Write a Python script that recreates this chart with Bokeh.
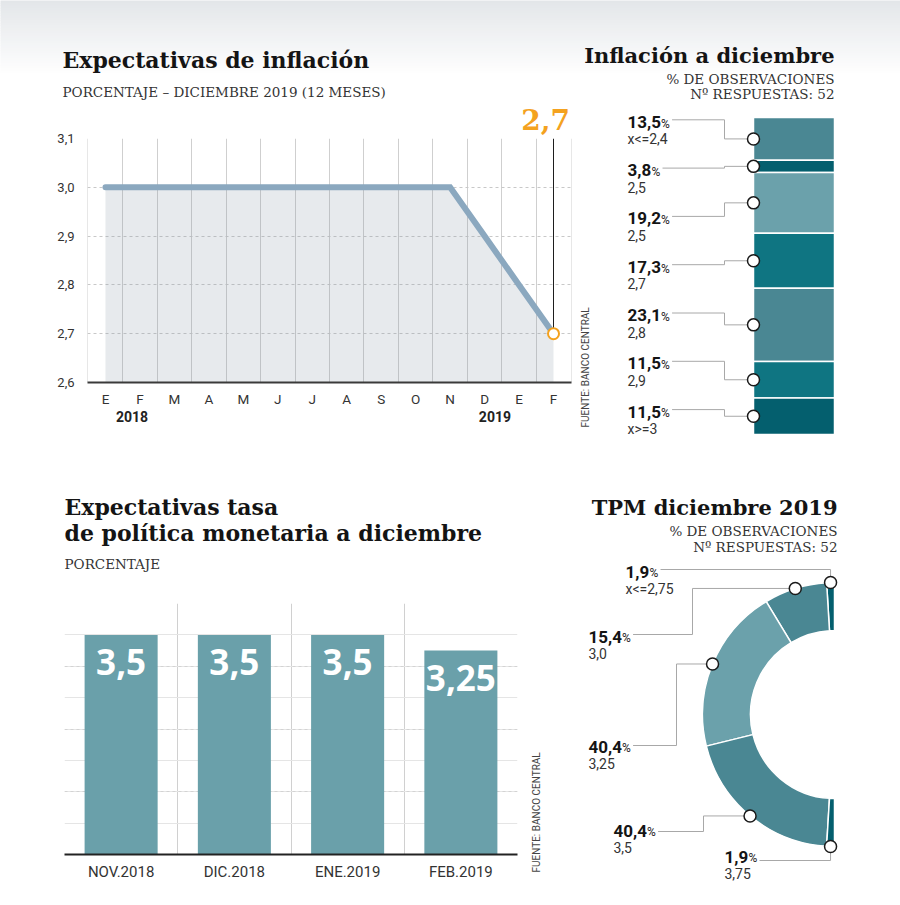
import math
from bokeh.plotting import figure
from bokeh.models import Range1d, FactorRange, FixedTicker, LinearAxis, Grid
from bokeh.layouts import row, column
from bokeh.core.properties import value
from bokeh.embed import file_html
from bokeh.resources import INLINE

# ---------------- data ----------------
months = ["E", "F", "M", "A", "M", "J", "J", "A", "S", "O", "N", "D", "E", "F"]
years = ["2018", "2019"]
inflation_exp = [3.0, 3.0, 3.0, 3.0, 3.0, 3.0, 3.0, 3.0, 3.0, 3.0, 3.0, 2.9, 2.8, 2.7]
y_ticks = [2.6, 2.7, 2.8, 2.9, 3.0, 3.1]
y_tick_labels = ["2,6", "2,7", "2,8", "2,9", "3,0", "3,1"]

infl_share = [13.5, 3.8, 19.2, 17.3, 23.1, 11.5, 11.5]
infl_bins = ["x<=2,4", "2,5", "2,5", "2,7", "2,8", "2,9", "x>=3"]

tpm_months = ["NOV.2018", "DIC.2018", "ENE.2019", "FEB.2019"]
tpm_exp = [3.5, 3.5, 3.5, 3.25]

tpm_share = [1.9, 15.4, 40.4, 40.4, 1.9]
tpm_bins = ["x<=2,75", "3,0", "3,25", "3,5", "3,75"]

# ---------------- styles ----------------
SERIF = "DejaVu Serif"
SANS = "Roboto"
BLACK = "#141414"
GREY_TXT = "#333333"
ORANGE = "#f4a21f"
T_MID, T_DARK, T_LIGHT, T_TEAL = "#4a8793", "#045f6e", "#6ba1ab", "#0f7582"
infl_colors = [T_MID, T_DARK, T_LIGHT, T_TEAL, T_MID, T_TEAL, T_DARK]
tpm_colors = [T_DARK, T_MID, T_LIGHT, T_MID, T_DARK]
BAR_COLOR = "#6aa0aa"
CONN = "#a8a8a8"
year_pos = [0.77, 11.3]
GRAD_TOP = (227, 230, 233)
GRAD_END = 75.0
SOURCE = "FUENTE: BANCO CENTRAL"


def fmt(v):
    return f"{v:g}".replace(".", ",")


def fmt1(v):
    return f"{v:.1f}".replace(".", ",")


def txt(p, x, y, s, size, font=SANS, style="normal", color=BLACK, align="left", angle=0.0):
    p.text(x=[x], y=[y], text=[s], text_font=value(font), text_font_size=f"{size}px",
           text_font_style=style, text_color=color, text_align=align,
           text_baseline="middle", angle=angle)


def bold_w(s, size):
    return sum(0.23 if ch == "," else 0.562 for ch in s) * size


def canvas(w, h, xr, yr):
    p = figure(width=w, height=h, x_range=Range1d(*xr), y_range=Range1d(*yr),
               output_backend="svg", toolbar_location=None,
               x_axis_location=None, y_axis_location=None,
               min_border_left=0, min_border_right=0, min_border_top=0, min_border_bottom=0,
               outline_line_color=None, background_fill_color="white",
               border_fill_color="white", frame_align=False)
    p.grid.visible = False
    return p


# ================= HEADER (top row titles) =================
hdr = canvas(900, 102, (0, 900), (102, 0))
nb = 30
g_tops, g_bots, g_cols = [], [], []
for i in range(nb):
    f = (i + 0.5) / nb
    c = tuple(int(round(GRAD_TOP[k] + (255 - GRAD_TOP[k]) * f)) for k in range(3))
    g_tops.append(GRAD_END * i / nb - (3 if i == 0 else 0))
    g_bots.append(GRAD_END * (i + 1) / nb + 0.4)
    g_cols.append("#%02x%02x%02x" % c)
hdr.quad(left=-5, right=905, top=g_tops, bottom=g_bots, fill_color=g_cols, line_color=None)
txt(hdr, 62, 59.3, "Expectativas de inflación", 22, font=SERIF, style="bold")
txt(hdr, 62, 91, "PORCENTAJE – DICIEMBRE 2019 (12 MESES)", 13.5, font=SERIF,
    color=GREY_TXT)
txt(hdr, 834, 54.6, "Inflación a diciembre", 21, font=SERIF, style="bold", align="right")
txt(hdr, 834, 78, "% DE OBSERVACIONES", 13.5, font=SERIF, color=GREY_TXT, align="right")
txt(hdr, 834, 93, "Nº RESPUESTAS: 52", 13.5, font=SERIF, color=GREY_TXT, align="right")

# ================= TOP LEFT: line chart =================
xs = list(range(len(months)))
pA = figure(width=575, height=358, x_range=Range1d(-0.522, len(months) - 1 + 0.522),
            y_range=Range1d(y_ticks[0], y_ticks[-1]), output_backend="svg",
            toolbar_location=None, min_border_left=87, min_border_right=4,
            min_border_top=36, min_border_bottom=78, outline_line_color=None,
            border_fill_color="white", background_fill_color="white", frame_align=False)
yax = pA.yaxis[0]
yax.ticker = FixedTicker(ticks=y_ticks)
yax.major_label_overrides = dict(zip(y_ticks, y_tick_labels))
yax.axis_line_color = None
yax.major_tick_line_color = None
yax.minor_tick_line_color = None
yax.major_label_standoff = 7
yax.major_label_text_font = SANS
yax.major_label_text_font_size = "13px"
yax.major_label_text_color = GREY_TXT

xax = pA.xaxis[0]
xax.ticker = FixedTicker(ticks=xs)
xax.major_label_overrides = dict(zip(xs, months))
xax.axis_line_color = "#3a3a3a"
xax.axis_line_width = 2
xax.major_tick_line_color = None
xax.minor_tick_line_color = None
xax.major_label_standoff = 2
xax.major_label_text_font = SANS
xax.major_label_text_font_size = "13.5px"
xax.major_label_text_color = GREY_TXT

yr_ax = LinearAxis(ticker=FixedTicker(ticks=year_pos),
                   major_label_overrides=dict(zip(year_pos, years)))
yr_ax.axis_line_color = None
yr_ax.major_tick_line_color = None
yr_ax.minor_tick_line_color = None
yr_ax.major_label_standoff = -5
yr_ax.major_label_text_font = SANS
yr_ax.major_label_text_font_style = "bold"
yr_ax.major_label_text_font_size = "14px"
yr_ax.major_label_text_color = "#222222"
pA.add_layout(yr_ax, "below")

# last value called out above the frame
last_pos = xs[-1] - 0.23
top_ax = LinearAxis(ticker=FixedTicker(ticks=[last_pos]),
                    major_label_overrides={last_pos: fmt(inflation_exp[-1])})
top_ax.axis_line_color = None
top_ax.major_tick_line_color = None
top_ax.minor_tick_line_color = None
top_ax.major_label_standoff = 3
top_ax.major_label_text_font = SERIF
top_ax.major_label_text_font_style = "bold"
top_ax.major_label_text_font_size = "28px"
top_ax.major_label_text_color = ORANGE
pA.add_layout(top_ax, "above")

pA.xgrid.ticker = FixedTicker(ticks=[-0.51] + [i + 0.5 for i in range(len(months) - 1)]
                              + [len(months) - 1 + 0.51])
pA.xgrid.grid_line_color = "#cfcfcf"
pA.xgrid.grid_line_width = 1
pA.ygrid.ticker = FixedTicker(ticks=y_ticks[1:])
pA.ygrid.grid_line_color = "#c8c8c8"
pA.ygrid.grid_line_dash = "3 3"

pA.varea(x=xs, y1=[y_ticks[0]] * len(xs), y2=inflation_exp,
         fill_color="#8796a5", fill_alpha=0.2)
pA.line(xs, inflation_exp, line_width=6, line_color="#8ba8bf", line_cap="round",
        line_join="miter")
pA.segment(x0=[xs[-1]], y0=[inflation_exp[-1]], x1=[xs[-1]], y1=[y_ticks[-1]],
           line_color="#1e1e1e", line_width=1)
pA.scatter([xs[-1]], [inflation_exp[-1]], size=11, fill_color="white",
           line_color=ORANGE, line_width=2)

# ================= TOP RIGHT: stacked bar =================
tot = sum(infl_share)
bar_top_px, bar_bot_px, panel_top, panel_bot = 117.0, 434.0, 102.0, 460.0
ppu = (bar_bot_px - bar_top_px) / tot


def py(px):
    return (px - bar_top_px) / ppu


pB = canvas(325, 358, (575, 900), (py(panel_bot), py(panel_top)))
# source note of the line chart (sits just right of it)
txt(pB, 584.5, py(427), SOURCE, 10, color="#444444", angle=math.pi / 2)

cum = [0.0]
for v in infl_share:
    cum.append(cum[-1] + v)
bx0, bx1 = 753, 834
pB.quad(left=bx0, right=bx1, top=cum[:-1], bottom=cum[1:], fill_color=infl_colors,
        line_color="white", line_width=1.5)
mids = [(cum[i] + cum[i + 1]) / 2 for i in range(len(infl_share))]
lab_x, elbow_x = 627, 724
cxs, cys = [], []
for i, v in enumerate(infl_share):
    base = 127.3 + i * 48.3
    s = fmt1(v)
    w = bold_w(s, 17)
    txt(pB, lab_x, py(base - 6), s, 17, style="bold", color=BLACK)
    txt(pB, lab_x + w + 1, py(base - 4.2), "%", 12, color="#222222")
    txt(pB, lab_x, py(base + 11), infl_bins[i], 14, color=GREY_TXT)
    ly = py(base - 8)
    x_start = lab_x + w + 12
    cxs.append([x_start, elbow_x, elbow_x, bx0])
    cys.append([ly, ly, mids[i], mids[i]])
pB.multi_line(cxs, cys, line_color=CONN, line_width=1)
pB.scatter([bx0] * len(mids), mids, size=12, fill_color="white", line_color="#1a1a1a",
           line_width=1.5)

# ================= BOTTOM LEFT: bar chart =================
pC_head = canvas(580, 120, (0, 580), (580, 460))
txt(pC_head, 64, 506.3, "Expectativas tasa", 22, font=SERIF, style="bold")
txt(pC_head, 64, 532.3, "de política monetaria a diciembre", 22, font=SERIF, style="bold")
txt(pC_head, 64, 563, "PORCENTAJE", 13.5, font=SERIF, color=GREY_TXT)

pC = figure(width=520, height=325, x_range=FactorRange(factors=tpm_months),
            y_range=Range1d(0, 4), output_backend="svg", toolbar_location=None,
            y_axis_location=None, min_border_left=64, min_border_right=3,
            min_border_top=23, min_border_bottom=51, outline_line_color=None,
            border_fill_color="white", background_fill_color="white", frame_align=False)
cax = pC.xaxis[0]
cax.axis_line_color = "#222222"
cax.axis_line_width = 2
cax.major_tick_line_color = None
cax.minor_tick_line_color = None
cax.major_label_standoff = 2
cax.major_label_text_font = SANS
cax.major_label_text_font_size = "15px"
cax.major_label_text_color = GREY_TXT
pC.xgrid.ticker = FixedTicker(ticks=[0, 1, 2, 3, 4])
pC.xgrid.grid_line_color = "#d0d0d0"
pC.add_layout(Grid(dimension=1, ticker=FixedTicker(ticks=[1, 2, 3, 4]),
                   grid_line_color="#d3d3d3", grid_line_dash="3 3"))
pC.vbar(x=tpm_months, top=tpm_exp, width=0.645, fill_color=BAR_COLOR, line_color=None)
pC.text(x=tpm_months, y=tpm_exp, text=[fmt(v) for v in tpm_exp], y_offset=27,
        text_align="center", text_baseline="middle", text_font=value("Open Sans"),
        text_font_style="bold", text_font_size="35px", text_color="white")

srcC = canvas(60, 325, (520, 580), (905, 580))
txt(srcC, 536, 872, SOURCE, 10, color="#444444", angle=math.pi / 2)

# ================= BOTTOM RIGHT: half donut =================
pD = canvas(320, 445, (-254, 66), (-191, 254))
txt(pD, 3, 207.4, "TPM diciembre 2019", 21, font=SERIF, style="bold", align="right")
txt(pD, 3, 184, "% DE OBSERVACIONES", 13.5, font=SERIF, color=GREY_TXT, align="right")
txt(pD, 3, 168, "Nº RESPUESTAS: 52", 13.5, font=SERIF, color=GREY_TXT, align="right")
ttot = sum(tpm_share)
tc = [0.0]
for v in tpm_share:
    tc.append(tc[-1] + v)
ang = [math.pi / 2 + math.pi * c / ttot for c in tc]
R_IN, R_OUT = 84, 132
pD.annular_wedge(x=0, y=0, inner_radius=R_IN, outer_radius=R_OUT, start_angle=ang[:-1],
                 end_angle=ang[1:], fill_color=tpm_colors, line_color="white",
                 line_width=1.5)
mid_ang = [(ang[i] + ang[i + 1]) / 2 for i in range(len(tpm_share))]
dcx = [R_OUT * math.cos(a) for a in mid_ang]
dcy = [R_OUT * math.sin(a) for a in mid_ang]
d_lab_x = [-209, -246, -246, -221, -110]
d_lab_base = [137, 72, -38, -122, -148]
d_line_dy = [8, 8, 7, 5, 2]
d_elbow = [None, -142, -158, -131, None]
dxs, dys = [], []
for i, v in enumerate(tpm_share):
    s = fmt1(v)
    w = bold_w(s, 17)
    x0 = d_lab_x[i]
    b = d_lab_base[i]
    txt(pD, x0, b + 6, s, 17, style="bold", color=BLACK)
    txt(pD, x0 + w + 1, b + 4.2, "%", 12, color="#222222")
    txt(pD, x0, b - 11, tpm_bins[i], 14, color=GREY_TXT)
    ly = b + d_line_dy[i]
    ex = dcx[i] if d_elbow[i] is None else d_elbow[i]
    dxs.append([x0 + w + 12, ex, ex, dcx[i]])
    dys.append([ly, ly, dcy[i], dcy[i]])
pD.multi_line(dxs, dys, line_color=CONN, line_width=1)
pD.scatter(dcx, dcy, size=12, fill_color="white", line_color="#1a1a1a", line_width=1.5)

top = column(hdr, row(pA, pB))
bottom = row(column(pC_head, row(pC, srcC)), pD)
layout = column(top, bottom)
open("out.html", "w").write(file_html(layout, INLINE))
